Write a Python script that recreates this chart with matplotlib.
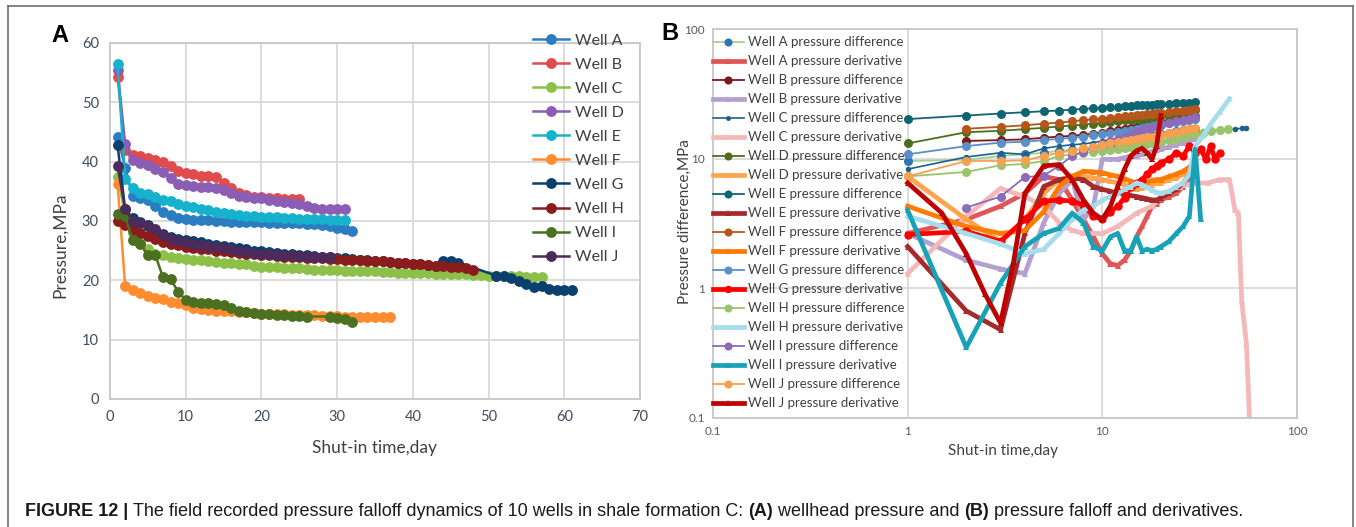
import numpy as np
import matplotlib.pyplot as plt
from matplotlib.lines import Line2D

# ---------------- panel A : wellhead pressure (MPa) vs shut-in day ----------------
wells = ['Well A', 'Well B', 'Well C', 'Well D', 'Well E',
         'Well F', 'Well G', 'Well H', 'Well I', 'Well J']
colorsA = ['#2A7DC0', '#E04B4B', '#8DC048', '#8B5DB5', '#16B1CC',
           '#FF8C2E', '#0A3F6E', '#8B1C1C', '#4B7020', '#4B2A5C']

pA = [44.2, 39.0, 34.2, 33.9, 33.6, 32.5, 31.6, 31.0, 30.5, 30.3, 30.2, 30.1, 30.1, 30.0, 30.0, 29.9,
      29.9, 29.8, 29.8, 29.8, 29.7, 29.7, 29.6, 29.6, 29.6, 29.5, 29.5, 29.4, 29.2, 28.9, 28.7, 28.3]
pB = [54.3, 42.0, 41.2, 40.9, 40.6, 40.3, 40.0, 39.2, 38.4, 38.1, 38.0, 37.6, 37.6, 37.5, 36.4, 35.5,
      34.7, 34.3, 34.1, 34.0, 33.9, 33.8, 33.7, 33.7, 33.7]
pC = [37.5, 31.0, 28.0, 26.5, 25.2, 24.5, 24.2, 24.0, 23.8, 23.6, 23.5, 23.4, 23.2, 23.1, 23.0, 22.9,
      22.8, 22.7, 22.5, 22.3, 22.2, 22.2, 22.1, 22.0, 22.0, 21.9, 21.8, 21.8, 21.7, 21.7, 21.6, 21.6,
      21.5, 21.5, 21.5, 21.4, 21.4, 21.3, 21.3, 21.3, 21.2, 21.2, 21.1, 21.1, 21.0, 21.0, 21.0, 20.9,
      20.9, 20.8, 20.8, 20.7, 20.7, 20.7, 20.6, 20.6, 20.6]
pD = [55.5, 43.0, 40.2, 39.8, 39.5, 38.8, 38.2, 37.2, 36.2, 36.0, 35.9, 35.8, 35.7, 35.6, 35.2, 34.8,
      34.2, 34.0, 33.9, 33.8, 33.6, 33.4, 33.2, 33.0, 32.8, 32.5, 32.2, 32.1, 32.0, 32.0, 32.0]
pE = [56.5, 37.0, 35.5, 34.8, 34.6, 34.0, 33.6, 33.3, 32.9, 32.6, 32.3, 32.0, 31.8, 31.6, 31.4, 31.2,
      31.0, 30.9, 30.8, 30.7, 30.6, 30.6, 30.5, 30.5, 30.4, 30.4, 30.3, 30.3, 30.2, 30.2, 30.2]
pF = [36.3, 19.1, 18.3, 17.8, 17.4, 17.1, 16.8, 16.4, 16.1, 15.8, 15.4, 15.1, 15.0, 14.9, 14.9, 14.8,
      14.7, 14.6, 14.5, 14.4, 14.4, 14.3, 14.3, 14.2, 14.2, 14.1, 14.1, 14.0, 14.0, 14.0, 13.9, 13.9,
      13.9, 13.8, 13.8, 13.8, 13.8]
pG = [42.8, 32.0, 30.5, 29.8, 29.3, 28.5, 27.8, 27.3, 27.0, 26.8, 26.6, 26.4, 26.2, 26.0, 25.8, 25.6,
      25.4, 25.2, 25.0, 24.9, 24.8, 24.6, 24.5, 24.4, 24.3, 24.2, 24.1, 24.0, 23.9, 23.8, 23.7, 23.6,
      23.5, 23.4, 23.3, 23.2, 23.1, 23.0, 22.9, 22.8, 22.7, 22.6, 22.5, 23.2, 23.3, 23.0,
      20.8, 20.7, 20.4, 19.9, 19.3, 18.8, 19.0, 18.5, 18.4, 18.4, 18.3]
dG = list(range(1, 47)) + list(range(51, 62))
pH = [30.0, 29.3, 28.5, 28.0, 27.5, 27.0, 26.5, 26.1, 25.9, 25.7, 25.5, 25.3, 25.2, 25.0, 24.9, 24.8,
      24.6, 24.5, 24.4, 24.3, 24.2, 24.1, 24.0, 24.0, 23.9, 23.8, 23.8, 23.7, 23.6, 23.6, 23.5, 23.5,
      23.4, 23.3, 23.2, 23.2, 23.1, 23.0, 22.9, 22.8, 22.7, 22.6, 22.5, 22.4, 22.3, 22.2, 22.0, 21.8]
pI = [31.2, 30.8, 26.8, 26.2, 24.2, 24.2, 20.5, 20.2, 18.1, 16.7, 16.3, 16.2, 16.1, 16.0, 15.8, 15.3,
      14.8, 14.6, 14.5, 14.4, 14.3, 14.2, 14.1, 14.0, 14.0, 13.9, 13.9, 13.7, 13.4, 13.0]
dI = list(range(1, 27)) + list(range(29, 33))
pJ = [39.3, 32.0, 30.0, 29.6, 29.2, 28.6, 27.6, 26.9, 26.6, 26.4, 26.2, 26.0, 25.8, 25.6, 25.4, 25.2,
      25.0, 24.8, 24.6, 24.5, 24.4, 24.3, 24.2, 24.2, 24.1, 24.1, 24.0, 24.0, 24.0]

seriesA = [pA, pB, pC, pD, pE, pF, pG, pH, pI, pJ]
daysA = [None, None, None, None, None, None, dG, None, dI, None]

# ---------------- panel B : pressure difference & derivative (log-log) ----------------
T = [1, 2, 3, 4, 5, 6, 7, 8, 9, 10, 11, 12, 13, 14, 15, 16, 17, 18, 19, 20, 22, 24, 26, 28, 30]

diffA = [9.6, 9.8, 10.5, 10.8, 11.1, 11.5, 11.7, 11.8, 12.2, 12.5, 12.7, 13.0, 13.3, 13.7, 14.1, 14.3,
         14.6, 14.9, 15.2, 15.5, 15.8, 16.2, 16.5, 16.8, 16.9]
derA = [2.65, 3.4, 4.3, 5.4, 7.3, 6.9, 4.8, 3.4, 2.5, 1.85, 1.55, 1.5, 1.65, 1.95, 2.5, 3.0,
        3.6, 4.3, 4.5, 4.8, 5.1, 5.4, 6.1, 6.9, 9.3]
diffB = [13.7, 13.9, 14.1, 14.5, 14.8, 15.0, 15.3, 15.6, 15.9, 16.2, 16.5, 16.8, 17.1, 17.4, 17.7,
         18.0, 18.3, 18.6, 19.0, 19.5, 20.0, 20.5, 21.0, 21.5]
derB = [2.65, 1.65, 1.41, 1.3, 3.2, 5.4, 6.9, 3.4, 4.3, 9.9, 9.9, 9.9, 10.2, 10.5, 10.5, 10.8,
        11.1, 11.4, 11.7, 11.8, 12.3, 12.8, 13.3, 13.7, 14.1]
tC = T + [33, 36, 40, 44, 48, 52, 55]
diffC = [8.3, 10.3, 11.1, 10.8, 12.0, 12.5, 12.8, 13.0, 13.3, 13.7, 14.0, 14.3, 14.5, 14.7, 15.0, 15.1,
         15.2, 15.3, 15.4, 15.5, 15.6, 15.7, 15.8, 15.9, 16.0, 16.2, 16.4, 16.6, 16.8, 17.0, 17.1, 17.2]
tCd = [1, 2, 3, 4, 5, 6, 7, 8, 10, 12, 15, 18, 20, 25, 30, 35, 40, 45, 48, 50, 52, 55, 57]
derC = [1.3, 3.6, 5.9, 5.1, 4.3, 3.2, 2.8, 2.65, 2.65, 3.0, 3.8, 4.3, 5.1, 6.1, 6.5, 6.5,
        6.9, 6.9, 4.0, 3.8, 0.8, 0.37, 0.1]
diffD = [13.1, 16.0, 16.4, 16.9, 17.3, 17.7, 18.0, 18.3, 18.6, 18.8, 19.1, 19.4, 19.7, 19.9, 20.2,
         20.4, 20.7, 20.9, 21.1, 21.5, 21.9, 22.4, 22.8, 23.2, 23.6]
derD = [7.3, 3.4, 2.3, 3.4, 5.4, 6.9, 7.3, 7.3, 7.1, 6.9, 6.7, 6.5, 6.3, 6.0, 5.8, 5.9,
        6.1, 6.3, 6.5, 6.5, 6.9, 7.1, 7.6, 8.3, 9.6]
diffE = [20.2, 21.5, 22.3, 22.8, 23.2, 23.5, 23.9, 24.2, 24.5, 24.8, 25.0, 25.2, 25.4, 25.6, 25.8,
         25.9, 26.0, 26.1, 26.2, 26.3, 26.5, 26.7, 26.9, 27.1, 27.3]
derE = [2.1, 0.67, 0.48, 2.65, 6.1, 6.9, 7.1, 6.9, 6.1, 5.8, 5.6, 5.4, 5.3, 5.2, 5.1, 5.0,
        4.9, 4.8, 4.8, 5.0, 5.4, 5.8, 6.5, 7.6, 10.5]
diffF = [17.0, 17.6, 18.1, 18.6, 19.0, 19.4, 19.8, 20.1, 20.4, 20.7, 21.0, 21.2, 21.4, 21.6, 21.8,
         22.0, 22.2, 22.4, 22.6, 22.9, 23.2, 23.5, 23.8, 24.0]
derF = [4.3, 3.0, 2.65, 2.8, 3.9, 6.1, 7.3, 8.0, 7.9, 7.8, 7.5, 7.3, 7.0, 6.7, 6.5, 6.5,
        6.6, 6.8, 6.9, 6.9, 7.3, 7.6, 8.0, 8.6, 9.3]
diffG = [10.8, 12.5, 13.3, 13.5, 13.9, 14.2, 14.5, 14.8, 15.1, 15.4, 15.7, 16.0, 16.3, 16.6, 16.9,
         17.2, 17.5, 17.8, 18.1, 18.4, 18.8, 19.2, 19.6, 19.9, 20.2]
tGd = T + [32, 34, 36, 38, 40]
derG = [2.6, 2.75, 2.3, 3.4, 4.7, 4.8, 4.7, 4.4, 3.6, 3.4, 3.9, 4.3, 5.0, 6.1, 6.5, 6.9,
        7.6, 8.3, 8.8, 9.3, 9.9, 11.1, 10.5, 12.5, 11.1, 11.8, 9.9, 12.5, 9.9, 11.1]
tH = T + [33, 36, 40, 44]
diffH = [7.3, 7.9, 8.9, 9.1, 9.6, 10.5, 10.8, 11.1, 11.3, 11.5, 11.7, 11.9, 12.1, 12.3, 12.5, 12.7,
         12.9, 13.1, 13.3, 13.5, 13.9, 14.3, 14.7, 15.1, 15.5, 15.9, 16.3, 16.7, 17.0]
tHd = T + [33, 36, 40, 45]
derH = [3.6, 2.65, 2.2, 1.85, 2.0, 2.65, 3.4, 4.0, 4.3, 4.8, 5.1, 5.4, 5.8, 6.1, 6.5, 6.3,
        6.0, 5.7, 5.5, 5.4, 5.6, 6.1, 6.5, 7.6, 12.5, 15.0, 18.5, 22.8, 29.0]
diffI = [4.2, 5.1, 7.2, 7.4, 8.8, 10.5, 11.3, 12.2, 13.0, 13.6, 14.2, 14.8, 15.4, 16.0, 16.5,
         17.0, 17.4, 17.8, 18.2, 18.8, 19.4, 19.9, 20.4, 20.8]
tId = T + [32]
derI = [4.0, 0.35, 1.1, 2.1, 2.65, 2.9, 3.8, 3.2, 2.1, 1.95, 2.5, 2.65, 1.95, 1.95, 2.5, 1.95,
        2.0, 1.95, 2.0, 2.1, 2.3, 2.65, 3.0, 3.6, 11.8, 3.4]
diffJ = [7.3, 9.6, 9.6, 9.7, 10.5, 11.1, 11.5, 12.0, 12.3, 12.8, 13.1, 13.4, 13.7, 13.9, 14.1,
         14.4, 14.6, 14.8, 15.0, 15.2, 15.7, 16.1, 16.5, 16.8, 17.1]
tJd = [1, 1.5, 2, 2.5, 3, 3.5, 4, 5, 6, 7, 8, 9, 10, 11, 12, 13, 14, 15, 16, 17, 18, 19, 20]
derJ = [6.5, 3.8, 1.85, 0.9, 0.54, 1.6, 5.4, 8.8, 9.0, 6.9, 4.8, 3.8, 3.4, 4.3, 6.1, 8.3,
        10.5, 11.5, 12.0, 11.1, 9.9, 12.5, 21.5]

# (label, t, values, kind, line colour, marker colour)
seriesB = [
    ('Well A pressure difference', T, diffA, 'd', '#A9D18E', '#2E75B6'),
    ('Well A pressure derivative', T, derA, 'v', '#E05555', '#E05555'),
    ('Well B pressure difference', T[1:], diffB, 'd', '#7B1818', '#7B1818'),
    ('Well B pressure derivative', T, derB, 'v', '#B4A0D0', '#B4A0D0'),
    ('Well C pressure difference', tC, diffC, 's', '#1F5F8B', '#1F5F8B'),
    ('Well C pressure derivative', tCd, derC, 'v', '#F4B8B8', '#F4B8B8'),
    ('Well D pressure difference', T, diffD, 'd', '#4E6E1E', '#4E6E1E'),
    ('Well D pressure derivative', T, derD, 'v', '#FFA54F', '#FFA54F'),
    ('Well E pressure difference', T, diffE, 'd', '#0F6673', '#0F6673'),
    ('Well E pressure derivative', T, derE, 'v', '#A52A2A', '#A52A2A'),
    ('Well F pressure difference', T[1:], diffF, 'd', '#B5561A', '#B5561A'),
    ('Well F pressure derivative', T, derF, 'v', '#FF7B00', '#FF7B00'),
    ('Well G pressure difference', T, diffG, 'd', '#5A8FC8', '#5A8FC8'),
    ('Well G pressure derivative', tGd, derG, 'o', '#FF0000', '#FF0000'),
    ('Well H pressure difference', tH, diffH, 'd', '#9BC36B', '#9BC36B'),
    ('Well H pressure derivative', tHd, derH, 'v', '#A7DCEB', '#A7DCEB'),
    ('Well I pressure difference', T[1:], diffI, 'd', '#8D6BB8', '#8D6BB8'),
    ('Well I pressure derivative', tId, derI, 'v', '#17A2B8', '#17A2B8'),
    ('Well J pressure difference', T, diffJ, 'd', '#F7A050', '#F7A050'),
    ('Well J pressure derivative', tJd, derJ, 'v', '#C00000', '#C00000'),
]

plt.rcParams['font.family'] = ['Lato', 'DejaVu Sans']
W, H = 1356, 527
fig = plt.figure(figsize=(W / 100, H / 100), dpi=100)

grid_c = '#D9D9D9'
tick_c = '#3E4C5E'
lab_c = '#404040'

# ---- panel A
axA = fig.add_axes([110 / W, 1 - 399 / H, 530 / W, 356 / H])
for name, p, d, c in zip(wells, seriesA, daysA, colorsA):
    days = d if d is not None else list(range(1, len(p) + 1))
    axA.plot(days, p, '-o', color=c, lw=1.8, ms=7.8, mew=0, label=name)
axA.set_xlim(0, 70)
axA.set_ylim(0, 60)
axA.set_xticks(range(0, 71, 10))
axA.set_yticks(range(0, 61, 10))
axA.grid(True, color=grid_c, lw=1.3)
axA.set_axisbelow(True)
for s in axA.spines.values():
    s.set_color('#C8C8C8')
    s.set_linewidth(1.3)
axA.tick_params(length=0, labelsize=10.5, labelcolor=tick_c, pad=8)
fig.text(375 / W, 1 - 448 / H, 'Shut-in time,day', ha='center', va='center', fontsize=12.5, color=lab_c)
fig.text(60 / W, 1 - 245 / H, 'Pressure,MPa', ha='center', va='center', rotation=90, fontsize=12.5, color=lab_c)
axA.legend(loc='upper left', bbox_to_anchor=(527 / W, 1 - 27 / H), bbox_transform=fig.transFigure,
           frameon=False, fontsize=11.5, labelspacing=0.62, handlelength=2.2, handletextpad=0.4,
           labelcolor=lab_c, borderaxespad=0)

# ---- panel B
axB = fig.add_axes([713 / W, 1 - 418 / H, 584 / W, 389 / H])
handles = []
for lab, t, v, kind, lc, mc in seriesB:
    if kind == 'v':
        h, = axB.plot(t, v, '-^', color=lc, lw=3.4, ms=5, mew=0, label=lab)
    elif kind == 'o':
        h, = axB.plot(t, v, '-o', color=lc, lw=3.4, ms=6, mew=0, label=lab)
    elif kind == 's':
        h, = axB.plot(t, v, '-o', color=lc, lw=1.2, ms=4, mew=0, label=lab)
    else:
        h, = axB.plot(t, v, '-o', color=lc, lw=1.3, ms=6.5, mfc=mc, mec=mc, mew=0, label=lab)
    handles.append(h)
axB.set_xscale('log')
axB.set_yscale('log')
axB.set_xlim(0.1, 100)
axB.set_ylim(0.1, 100)
axB.set_xticks([0.1, 1, 10, 100])
axB.set_xticklabels(['0.1', '1', '10', '100'])
axB.set_yticks([0.1, 1, 10, 100])
axB.set_yticklabels(['0.1', '1', '10', '100'])
axB.minorticks_off()
axB.grid(True, color=grid_c, lw=1.3)
axB.set_axisbelow(True)
for s in axB.spines.values():
    s.set_color('#C8C8C8')
    s.set_linewidth(1.3)
axB.tick_params(length=0, labelsize=8.5, labelcolor='#595959', pad=6)
fig.text(1003 / W, 1 - 451 / H, 'Shut-in time,day', ha='center', va='center', fontsize=11, color=lab_c)
fig.text(685 / W, 1 - 222 / H, 'Pressure difference,MPa', ha='center', va='center', rotation=90,
         fontsize=11, color=lab_c)
axB.legend(handles=handles, loc='upper left', bbox_to_anchor=(708 / W, 1 - 31 / H),
           bbox_transform=fig.transFigure, frameon=False, fontsize=9.5, labelspacing=0.53,
           handlelength=2.3, handletextpad=0.3, labelcolor=lab_c, borderaxespad=0, markerscale=0.9)

# ---- panel letters
fig.text(60 / W, 1 - 36 / H, 'A', ha='center', va='center', fontsize=17, fontweight='bold',
         family='Liberation Sans')
fig.text(670 / W, 1 - 34 / H, 'B', ha='center', va='center', fontsize=17, fontweight='bold',
         family='Liberation Sans')

# ---- frame around the figure
for xs, ys in [([8 / W, 8 / W], [0, 1 - 6 / H]), ([8 / W, 1353 / W], [1 - 6 / H, 1 - 6 / H]),
               ([1353 / W, 1353 / W], [1 - 6 / H, 0])]:
    fig.add_artist(Line2D(xs, ys, color='#707070', lw=1.2, transform=fig.transFigure))

# ---- caption with bold pieces
parts = [('FIGURE 12 | ', 'bold'),
         ('The field recorded pressure falloff dynamics of 10 wells in shale formation C: ', 'normal'),
         ('(A)', 'bold'), (' wellhead pressure and ', 'normal'), ('(B)', 'bold'),
         (' pressure falloff and derivatives.', 'normal')]
renderer = fig.canvas.get_renderer()
x = 25 / W
for txt, wgt in parts:
    t = fig.text(x, 1 - 511 / H, txt, ha='left', va='center', fontsize=13, fontweight=wgt,
                 family='Liberation Sans', color='#1A1A1A')
    bb = t.get_window_extent(renderer=renderer)
    x += bb.width / W

fig.savefig('out.png', dpi=100)
